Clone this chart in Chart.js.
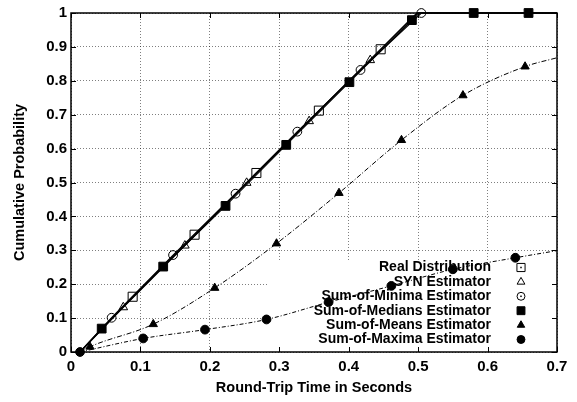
<!DOCTYPE html>
<html>
<head>
<meta charset="utf-8">
<title>Round-trip time CDF</title>
<script src="https://cdn.jsdelivr.net/npm/chart.js@4"></script>
<style>
  html, body { margin: 0; padding: 0; background: #fff; }
</style>
</head>
<body>
<canvas id="cdf" width="577" height="402"></canvas>
<script>
// series names, in key order
const seriesNames = [
  'Real Distribution',
  'SYN Estimator',
  'Sum-of-Minima Estimator',
  'Sum-of-Medians Estimator',
  'Sum-of-Means Estimator',
  'Sum-of-Maxima Estimator'
];

// x = round-trip time (s), y = cumulative probability, mark = draw a point symbol
const realX = [0.013, 0.0888, 0.178, 0.267, 0.357, 0.446, 0.498, 0.70];
const realY = [0, 0.163, 0.346, 0.528, 0.712, 0.893, 1.0, 1.0];
const realMark = [0, 1, 1, 1, 1, 1, 0, 0];

const synX = [0.013, 0.0753, 0.164, 0.253, 0.343, 0.431, 0.499, 0.70];
const synY = [0, 0.132, 0.314, 0.499, 0.681, 0.861, 1.0, 1.0];
const synMark = [0, 1, 1, 1, 1, 1, 0, 0];

const minX = [0.013, 0.0585, 0.147, 0.237, 0.326, 0.417, 0.5046, 0.70];
const minY = [0, 0.101, 0.286, 0.467, 0.650, 0.832, 1.0, 1.0];
const minMark = [0, 1, 1, 1, 1, 1, 1, 0];

const medX = [0.013, 0.0442, 0.1328, 0.2226, 0.310, 0.401, 0.491, 0.50, 0.580, 0.659, 0.70];
const medY = [0, 0.069, 0.252, 0.431, 0.611, 0.796, 0.979, 1.0, 1.0, 1.0, 1.0];
const medMark = [0, 1, 1, 1, 1, 1, 1, 0, 1, 1, 0];

const meanX = [0.013, 0.0273, 0.1185, 0.207, 0.296, 0.386, 0.476, 0.5645, 0.654, 0.70];
const meanY = [0, 0.0155, 0.082, 0.189, 0.320, 0.469, 0.625, 0.757, 0.842, 0.868];
const meanMark = [0, 1, 1, 1, 1, 1, 1, 1, 1, 0];

const maxX = [0.013, 0.104, 0.193, 0.2816, 0.371, 0.4614, 0.550, 0.640, 0.70];
const maxY = [0, 0.040, 0.066, 0.096, 0.147, 0.195, 0.244, 0.278, 0.299];
const maxMark = [1, 1, 1, 1, 1, 1, 1, 1, 0];

const xTickLabels = ['0', '0.1', '0.2', '0.3', '0.4', '0.5', '0.6', '0.7'];
const yTickLabels = ['0', '0.1', '0.2', '0.3', '0.4', '0.5', '0.6', '0.7', '0.8', '0.9', '1'];

const FONT = '"Liberation Sans", Arial, Helvetica, sans-serif';

// key layout (pixels) and the area where the grid is left out behind it (data units)
const KEY_TEXT_X = 491;
const KEY_SYM_X = 521;
const KEY_TOP = 267.5;
const KEY_ROW = 14.4;
const KEY_CLEAR_X = 0.285;
const KEY_CLEAR_Y = 0.27;

function toPoints(xs, ys) {
  return xs.map((x, i) => ({ x: x, y: ys[i] }));
}

function series(i, xs, ys, marks, style) {
  return Object.assign({
    label: seriesNames[i],
    data: toPoints(xs, ys),
    showLine: true,
    clip: false,
    borderColor: '#000',
    borderWidth: 1.2,
    pointBorderColor: '#000',
    pointBorderWidth: 1,
    pointRadius: ctx => marks[ctx.dataIndex] ? style.symRadius : 0,
    pointHoverRadius: ctx => marks[ctx.dataIndex] ? style.symRadius : 0,
    order: 5 - i
  }, style);
}

const datasets = [
  series(0, realX, realY, realMark, { pointStyle: 'rect', symRadius: 6.4, pointBackgroundColor: 'rgba(0,0,0,0)' }),
  series(1, synX, synY, synMark, { pointStyle: 'triangle', symRadius: 5, pointBackgroundColor: 'rgba(0,0,0,0)' }),
  series(2, minX, minY, minMark, { pointStyle: 'circle', symRadius: 4.4, pointBackgroundColor: 'rgba(0,0,0,0)' }),
  series(3, medX, medY, medMark, { pointStyle: 'rect', symRadius: 6.2, pointBackgroundColor: '#000' }),
  series(4, meanX, meanY, meanMark, { pointStyle: 'triangle', symRadius: 4.8, pointBackgroundColor: '#000',
    borderWidth: 1, borderDash: [5, 2, 1, 2], cubicInterpolationMode: 'monotone' }),
  series(5, maxX, maxY, maxMark, { pointStyle: 'circle', symRadius: 4.4, pointBackgroundColor: '#000',
    borderWidth: 1, borderDash: [4, 2, 1, 2], cubicInterpolationMode: 'monotone' })
];

// border, inward ticks on all four sides, and the key (drawn under the data)
const frameAndKey = {
  id: 'frameAndKey',
  beforeDatasetsDraw(chart) {
    const { ctx, chartArea: a, scales: { x, y } } = chart;
    ctx.save();

    const kx = x.getPixelForValue(KEY_CLEAR_X);
    const ky = y.getPixelForValue(KEY_CLEAR_Y);
    ctx.fillStyle = '#fff';
    ctx.fillRect(kx, ky, a.right - kx, a.bottom - ky);

    ctx.strokeStyle = '#000';
    ctx.lineWidth = 1;
    ctx.beginPath();
    x.ticks.forEach(t => {
      const px = Math.round(x.getPixelForValue(t.value)) + 0.5;
      ctx.moveTo(px, a.bottom); ctx.lineTo(px, a.bottom - 5);
      ctx.moveTo(px, a.top); ctx.lineTo(px, a.top + 5);
    });
    y.ticks.forEach(t => {
      const py = Math.round(y.getPixelForValue(t.value)) + 0.5;
      ctx.moveTo(a.left, py); ctx.lineTo(a.left + 5, py);
      ctx.moveTo(a.right, py); ctx.lineTo(a.right - 5, py);
    });
    ctx.stroke();

    ctx.lineWidth = 1.5;
    ctx.strokeRect(a.left, a.top, a.right - a.left, a.bottom - a.top);

    ctx.font = 'bold 14px ' + FONT;
    ctx.textAlign = 'right';
    ctx.textBaseline = 'middle';
    chart.data.datasets.forEach((ds, i) => {
      const ty = KEY_TOP + i * KEY_ROW;
      ctx.fillStyle = '#000';
      ctx.fillText(ds.label, KEY_TEXT_X, ty);
      ctx.fillStyle = ds.pointBackgroundColor;
      ctx.strokeStyle = '#000';
      ctx.lineWidth = 1;
      ctx.setLineDash([]);
      Chart.helpers.drawPoint(ctx, { pointStyle: ds.pointStyle, radius: ds.symRadius * 0.9, borderWidth: 1, rotation: 0 }, KEY_SYM_X, ty);
      if (ds.pointBackgroundColor !== '#000' && ds.pointStyle !== 'triangle') {
        ctx.fillStyle = '#000';
        ctx.fillRect(KEY_SYM_X - 0.75, ty - 0.75, 1.5, 1.5);
      }
    });
    ctx.restore();
  }
};

Chart.defaults.font.family = FONT;
Chart.defaults.font.size = 15;
Chart.defaults.font.weight = 'bold';
Chart.defaults.color = '#000';

new Chart(document.getElementById('cdf'), {
  type: 'scatter',
  data: { datasets: datasets },
  options: {
    responsive: false,
    animation: false,
    layout: { padding: { top: 9, right: 20, left: 0, bottom: 0 } },
    plugins: { legend: { display: false }, tooltip: { enabled: false } },
    scales: {
      x: {
        type: 'linear',
        min: 0,
        max: 0.7,
        afterFit: s => { s.height = 50; },
        ticks: {
          stepSize: 0.1,
          padding: 6,
          maxRotation: 0,
          callback: (v, i) => xTickLabels[i]
        },
        grid: { color: 'rgba(0,0,0,0.5)', lineWidth: 1, drawTicks: false },
        border: { display: false, dash: [1, 2] },
        title: { display: true, text: 'Round-Trip Time in Seconds', font: { size: 14.5 }, padding: { top: 0, bottom: 5 } }
      },
      y: {
        type: 'linear',
        min: 0,
        max: 1,
        afterFit: s => { s.width = 71; },
        ticks: {
          stepSize: 0.1,
          padding: 4,
          callback: (v, i) => yTickLabels[i]
        },
        grid: { color: 'rgba(0,0,0,0.5)', lineWidth: 1, drawTicks: false },
        border: { display: false, dash: [1, 2] },
        title: { display: true, text: 'Cumulative Probability', font: { size: 14.5 }, padding: { top: 11, bottom: 0 } }
      }
    }
  },
  plugins: [frameAndKey]
});
</script>
</body>
</html>
